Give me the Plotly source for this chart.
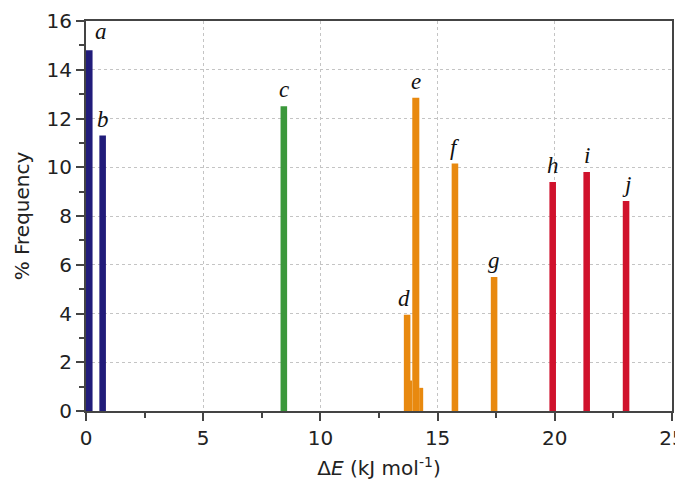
import plotly.graph_objects as go

# Data
labels = ["a", "b", "c", "d", "", "e", "", "f", "g", "h", "i", "j"]
delta_e = [0.14, 0.71, 8.44, 13.70, 13.87, 14.07, 14.30, 15.74, 17.41, 19.91, 21.36, 23.04]
freq = [14.8, 11.3, 12.5, 3.95, 1.25, 12.85, 0.95, 10.15, 5.5, 9.4, 9.8, 8.62]
group = ["navy", "navy", "green", "orange", "orange", "orange", "orange", "orange", "orange", "red", "red", "red"]

bar_width = [0.28, 0.28, 0.28, 0.28, 0.08, 0.30, 0.17, 0.28, 0.28, 0.28, 0.28, 0.28]
colors = {"navy": "#211c7a", "green": "#3b983b", "orange": "#e8890f", "red": "#d0122c"}
label_shift = {"a": (12, 4), "d": (-3, 2)}

fig = go.Figure()
for g in ["navy", "green", "orange", "red"]:
    idx = [i for i, gg in enumerate(group) if gg == g]
    fig.add_trace(go.Bar(
        x=[delta_e[i] for i in idx],
        y=[freq[i] for i in idx],
        width=[bar_width[i] for i in idx],
        marker=dict(color=colors[g], line=dict(width=0)),
        showlegend=False,
    ))

for lab, xv, yv in zip(labels, delta_e, freq):
    if not lab:
        continue
    xs, ys = label_shift.get(lab, (0, 2))
    fig.add_annotation(x=xv, y=yv, text=f"<i>{lab}</i>", showarrow=False,
                       xanchor="center", yanchor="bottom", xshift=xs, yshift=ys,
                       font=dict(family="Liberation Serif", size=23, color="#111"))

axis_common = dict(
    showline=True, linecolor="#444", linewidth=2, mirror=True,
    ticks="outside", ticklen=8, tickwidth=1.5, tickcolor="#444",
    showgrid=True, gridcolor="#c4c4c4", griddash="dot", gridwidth=1,
    zeroline=False, automargin=False, ticklabeloverflow="allow",
    tickfont=dict(family="DejaVu Sans", size=20, color="#222"),
    title_font=dict(family="DejaVu Sans", size=20, color="#222"),
)

fig.update_xaxes(range=[0, 25], tickvals=[0, 5, 10, 15, 20, 25],
                 minor=dict(tickvals=[2.5, 7.5, 12.5, 17.5, 22.5], ticks="outside", ticklen=5,
                            tickwidth=1.5, tickcolor="#444", showgrid=False),
                 title_text="Δ<i>E</i> (kJ mol<sup>-1</sup>)", title_standoff=12,
                 **axis_common)
fig.update_yaxes(range=[0, 16], tickvals=list(range(0, 17, 2)),
                 minor=dict(tickvals=list(range(1, 16, 2)), ticks="outside", ticklen=5,
                            tickwidth=1.5, tickcolor="#444", showgrid=False),
                 title_text="% Frequency", title_standoff=12,
                 **axis_common)

fig.update_layout(
    width=675, height=478,
    margin=dict(l=78, r=11, t=13, b=75),
    plot_bgcolor="white", paper_bgcolor="white",
    barmode="overlay",
)

fig.write_html("out.html")
